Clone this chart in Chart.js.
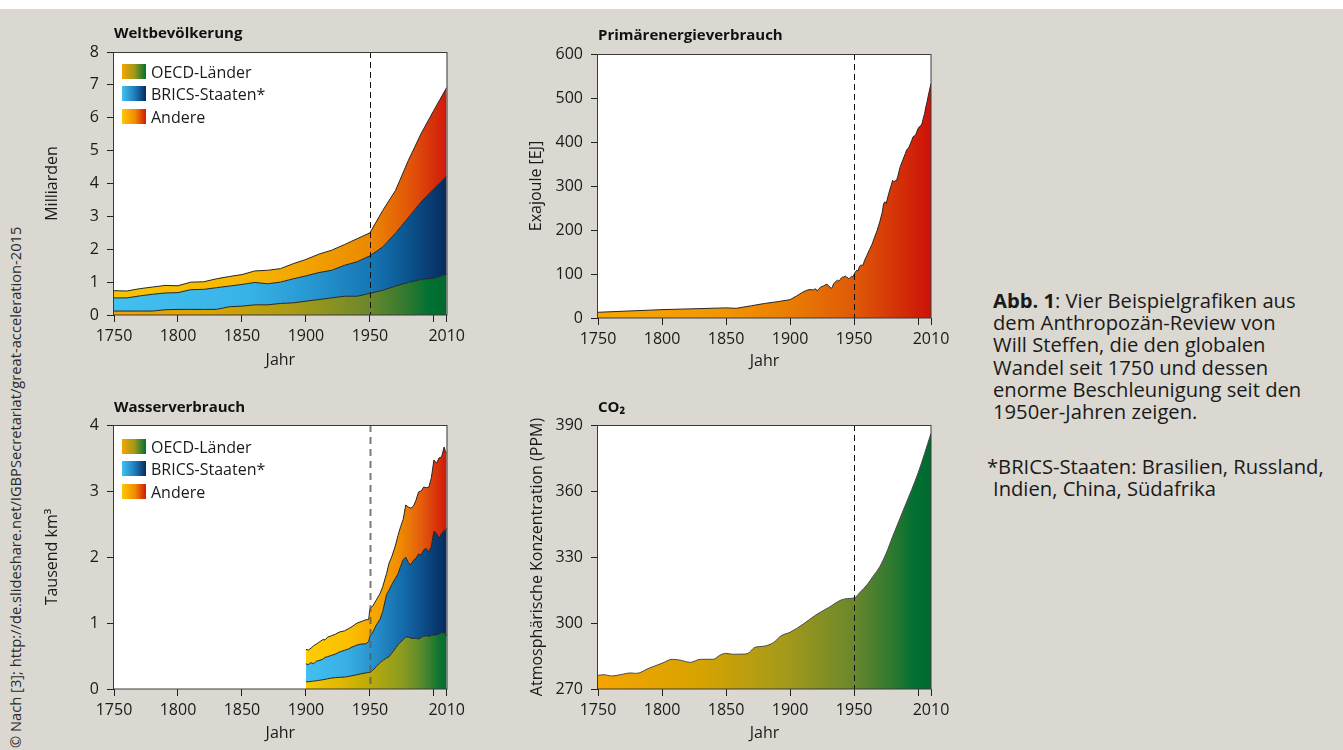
<!DOCTYPE html>
<html lang="de">
<head>
<meta charset="UTF-8">
<title>Große Beschleunigung</title>
<script src="https://cdn.jsdelivr.net/npm/chart.js@4.4.1/dist/chart.umd.min.js"></script>
<style>
  html, body { margin: 0; padding: 0; }
  body {
    width: 1343px; height: 750px; position: relative; overflow: hidden;
    background: #dbd8d1; font-family: 'Open Sans', sans-serif; color: #1a1a1a;
  }
  .strip { position: absolute; left: 0; top: 0; width: 100%; height: 9px; background: #fff; }
  canvas { position: absolute; }
  #c1 { left: 30px; top: 9px; }
  #c2 { left: 510px; top: 9px; }
  #c3 { left: 30px; top: 380px; }
  #c4 { left: 510px; top: 380px; }
  .caption { position: absolute; left: 993px; top: 289px; font-size: 20.2px; line-height: 22.2px; }
  .caption p { margin: 0; }
  .caption .note { margin-top: 33px; text-indent: -6px; }
  .credit {
    position: absolute; left: 6px; top: 748px; white-space: nowrap;
    font-size: 14.7px; line-height: 19px; color: #2a2a2a;
    transform-origin: left top; transform: rotate(-90deg);
  }
</style>
</head>
<body>
<div class="strip"></div>
<canvas id="c1" width="440" height="365"></canvas>
<canvas id="c2" width="445" height="365"></canvas>
<canvas id="c3" width="440" height="370"></canvas>
<canvas id="c4" width="445" height="370"></canvas>

<div class="caption">
  <p><b>Abb. 1</b>: Vier Beispielgrafiken aus<br>dem Anthropozän-Review von<br>Will Steffen, die den globalen<br>Wandel seit 1750 und dessen<br>enorme Beschleunigung seit den<br>1950er-Jahren zeigen.</p>
  <p class="note">*BRICS-Staaten: Brasilien, Russland,<br>Indien, China, Südafrika</p>
</div>
<div class="credit">© Nach [3]; http://de.slideshare.net/IGBPSecretariat/great-acceleration-2015</div>

<script>
// Jahresachse, gilt fuer alle vier Grafiken
const xTicks = [1750, 1800, 1850, 1900, 1950, 2000, 2010];
const xTickLabels = ['1750', '1800', '1850', '1900', '1950', '', '2010'];
const markYear = 1950;
const groupLabels = ['OECD-Länder', 'BRICS-Staaten*', 'Andere'];

// Weltbevoelkerung in Milliarden (je Gruppe, gestapelt)
const popYears = [1750, 1760, 1770, 1780, 1790, 1800, 1810, 1820, 1830, 1840, 1850, 1860, 1870, 1880,
  1890, 1900, 1910, 1920, 1930, 1940, 1950, 1960, 1970, 1980, 1990, 2000, 2010];
const popOECD = [0.12, 0.12, 0.12, 0.12, 0.16, 0.17, 0.17, 0.17, 0.17, 0.25, 0.27, 0.31, 0.31, 0.35,
  0.37, 0.42, 0.47, 0.52, 0.57, 0.57, 0.66, 0.75, 0.88, 0.99, 1.08, 1.12, 1.24];
const popBRICS = [0.40, 0.40, 0.46, 0.51, 0.51, 0.51, 0.60, 0.61, 0.66, 0.63, 0.66, 0.68, 0.64, 0.65,
  0.73, 0.77, 0.82, 0.84, 0.94, 1.05, 1.14, 1.32, 1.61, 1.97, 2.36, 2.72, 2.99];
const popOther = [0.22, 0.21, 0.22, 0.22, 0.23, 0.21, 0.23, 0.23, 0.27, 0.29, 0.30, 0.35, 0.41, 0.41,
  0.46, 0.50, 0.56, 0.61, 0.63, 0.70, 0.70, 1.11, 1.30, 1.74, 2.08, 2.39, 2.69];

// Primaerenergieverbrauch in EJ
const energyYears = [1750, 1800, 1850, 1858, 1870, 1880, 1890, 1900, 1905, 1910, 1913, 1915, 1917, 1918,
  1919, 1920, 1921, 1922, 1924, 1926, 1928, 1929, 1930, 1931, 1932, 1933, 1934, 1936, 1937, 1938, 1939,
  1940, 1941, 1942, 1943, 1944, 1945, 1946, 1947, 1948, 1949, 1950, 1951, 1952, 1953, 1954, 1955, 1957,
  1958, 1960, 1962, 1964, 1966, 1968, 1970, 1972, 1973, 1974, 1975, 1977, 1979, 1980, 1981, 1982, 1983,
  1984, 1986, 1988, 1990, 1991, 1992, 1993, 1994, 1995, 1996, 1997, 1998, 1999, 2000, 2001, 2002, 2003,
  2004, 2005, 2006, 2007, 2008, 2009, 2010];
const energyValues = [13, 19, 23, 22, 28, 33, 37, 41.7, 50, 59, 63, 64.5, 64.5, 63,
  66, 66, 61.5, 65, 70.5, 73, 76, 76, 73.6, 70.5, 67, 70.5, 78, 84, 86, 84, 87,
  91, 93, 93, 95.6, 93, 92, 89, 92, 95, 93, 99.4, 104.7, 108.5, 107, 116, 120, 120,
  130, 142.6, 155.5, 167.7, 184, 199.5, 218.5, 241, 260, 264, 260, 283, 302, 313, 309.6, 312, 312,
  321, 344, 359, 374, 382, 385.4, 389, 397, 404, 412, 414, 416, 424, 431, 435, 436.7, 442,
  454, 465, 480, 492, 507, 520, 533];

// Wasserverbrauch in Tausend km3 (je Gruppe, gestapelt)
const waterYears = [1900, 1902, 1904, 1906, 1908, 1910, 1913, 1915, 1917, 1920, 1923, 1926, 1930, 1933,
  1936, 1940, 1943, 1947, 1949, 1950, 1952, 1955, 1958, 1960, 1963, 1965, 1967, 1970, 1972, 1974, 1976,
  1978, 1980, 1982, 1984, 1986, 1988, 1990, 1992, 1994, 1996, 1998, 2000, 2002, 2004, 2006, 2008, 2009, 2010];
const waterOECD = [0.11, 0.11, 0.115, 0.12, 0.125, 0.13, 0.14, 0.146, 0.155, 0.166, 0.172, 0.177, 0.18, 0.19,
  0.20, 0.217, 0.23, 0.245, 0.25, 0.25, 0.28, 0.34, 0.40, 0.43, 0.47, 0.49, 0.54, 0.62, 0.67, 0.71, 0.75,
  0.787, 0.787, 0.77, 0.765, 0.77, 0.756, 0.78, 0.80, 0.805, 0.797, 0.81, 0.82, 0.82, 0.83, 0.857, 0.847, 0.84, 0.80];
const waterBRICS = [0.27, 0.26, 0.285, 0.26, 0.295, 0.30, 0.31, 0.334, 0.335, 0.344, 0.358, 0.383, 0.405, 0.415,
  0.435, 0.449, 0.45, 0.441, 0.47, 0.55, 0.57, 0.63, 0.66, 0.745, 0.96, 1.01, 1.04, 1.06, 1.08, 1.15, 1.21,
  1.21, 1.13, 1.11, 1.185, 1.21, 1.29, 1.25, 1.31, 1.325, 1.28, 1.35, 1.57, 1.54, 1.45, 1.50, 1.56, 1.54, 1.64];
const waterOther = [0.22, 0.22, 0.22, 0.275, 0.26, 0.276, 0.296, 0.266, 0.297, 0.297, 0.30, 0.302, 0.295, 0.305,
  0.31, 0.334, 0.34, 0.364, 0.33, 0.42, 0.40, 0.38, 0.39, 0.375, 0.32, 0.41, 0.42, 0.50, 0.58, 0.60, 0.61,
  0.79, 0.84, 0.86, 0.82, 0.88, 0.94, 0.97, 0.95, 0.92, 0.98, 1.04, 1.08, 1.06, 1.22, 1.16, 1.26, 1.22, 1.14];

// CO2-Konzentration in ppm
const co2Years = [1750, 1755, 1760, 1770, 1775, 1780, 1790, 1800, 1808, 1815, 1822, 1830, 1840, 1845, 1850,
  1855, 1865, 1868, 1872, 1880, 1887, 1893, 1900, 1910, 1920, 1930, 1940, 1945, 1950, 1955, 1960, 1965,
  1970, 1975, 1980, 1990, 2000, 2010];
const co2Values = [276.2, 276.5, 275.9, 276.8, 277.3, 277.1, 279.5, 281.7, 283.5, 283, 282.1, 283.5, 283.5, 285.3, 286.2,
  285.8, 285.9, 286.5, 288.8, 289.5, 291.1, 294.2, 295.8, 299.4, 303.6, 307, 310.5, 311.1, 311.4, 314.2, 317.3, 321.4,
  325.6, 331.7, 339.2, 353.6, 368.3, 386.2];

// Farbverlaeufe (links -> rechts)
const oecdStops = [[0, '#f5a400'], [0.3, '#d8a300'], [0.56, '#a49a1a'], [0.77, '#6a872c'], [0.89, '#2a7830'], [0.95, '#007032'], [1, '#006a30']];
const bricsStops = [[0, '#42c0f0'], [0.4, '#38b3e7'], [0.6, '#2596d0'], [0.77, '#1677b5'], [0.88, '#0b5690'], [1, '#072a5e']];
const otherStops = [[0, '#f8c400'], [0.4, '#f6b600'], [0.6, '#f1a000'], [0.77, '#ec8800'], [0.9, '#e0500a'], [1, '#d0190a']];
const waterOecdStops = [[0, '#f8c800'], [0.23, '#e2b900'], [0.45, '#bcab08'], [0.68, '#8c9c20'], [0.82, '#5a8a2c'], [0.95, '#0b7432'], [1, '#006e30']];
const waterBricsStops = [[0, '#42c0f0'], [0.3, '#38aee4'], [0.45, '#2a96d0'], [0.7, '#136aa8'], [0.85, '#0b4a86'], [1, '#072a5e']];
const waterOtherStops = [[0, '#ffcc00'], [0.3, '#fbc000'], [0.45, '#f6ac00'], [0.65, '#f09000'], [0.82, '#e45c0c'], [1, '#d0190a']];
const energyStops = [[0, '#f6a800'], [0.38, '#f29600'], [0.58, '#e97c02'], [0.77, '#df5a08'], [1, '#cc1208']];
const legendStops = [
  [[0, '#f5a400'], [0.5, '#a49a1a'], [1, '#007032']],
  [[0, '#42c0f0'], [0.5, '#1e82c0'], [1, '#072a5e']],
  [[0, '#ffc800'], [0.55, '#f08a00'], [1, '#d0190a']]
];

Chart.defaults.font.family = "'Open Sans', sans-serif";
Chart.defaults.font.size = 16;
Chart.defaults.color = '#1a1a1a';

function grad(chart, stops, from, to) {
  if (!chart.chartArea) return stops[0][1];
  const sx = chart.scales.x;
  const g = chart.ctx.createLinearGradient(sx.getPixelForValue(from), 0, sx.getPixelForValue(to), 0);
  stops.forEach(([p, c]) => g.addColorStop(p, c));
  return g;
}

function points(xs, ys) {
  return xs.map((x, i) => ({ x: x, y: ys[i] }));
}

// weisse Zeichenflaeche, Rahmen, gestrichelte 1950er-Linie und Legende in der Zeichenflaeche
const framePlugin = {
  id: 'frame',
  defaults: { markColor: '#111', markWidth: 1, dash: [6, 4], legend: false, legendTop: 12 },
  beforeDraw(chart) {
    const { ctx, chartArea: a } = chart;
    ctx.save();
    ctx.fillStyle = '#fff';
    ctx.fillRect(a.left, a.top, a.width, a.height);
    ctx.restore();
  },
  afterDatasetsDraw(chart, args, opts) {
    const { ctx, chartArea: a } = chart;
    const x = Math.round(chart.scales.x.getPixelForValue(markYear)) + 0.5;
    ctx.save();
    ctx.beginPath();
    ctx.setLineDash(opts.dash);
    ctx.strokeStyle = opts.markColor;
    ctx.lineWidth = opts.markWidth;
    ctx.moveTo(x, a.top);
    ctx.lineTo(x, a.bottom);
    ctx.stroke();
    ctx.setLineDash([]);
    ctx.strokeStyle = '#3a3a3a';
    ctx.lineWidth = 1;
    ctx.strokeRect(Math.round(a.left) - 0.5, Math.round(a.top) + 0.5,
      Math.round(a.width) + 0.5, Math.round(a.height) - 0.5);

    if (opts.legend) {
      ctx.font = "16px 'Open Sans', sans-serif";
      ctx.fillStyle = '#1a1a1a';
      ctx.textBaseline = 'alphabetic';
      chart.data.datasets.forEach((ds, i) => {
        const top = Math.round(a.top + opts.legendTop + i * 22.4);
        const left = Math.round(a.left + 8);
        const g = ctx.createLinearGradient(left, 0, left + 24, 0);
        legendStops[i].forEach(([p, c]) => g.addColorStop(p, c));
        ctx.fillStyle = g;
        ctx.fillRect(left, top, 24, 15);
        ctx.fillStyle = '#1a1a1a';
        ctx.fillText(ds.label, left + 29, top + 14);
      });
    }
    ctx.restore();
  }
};

function makeChart(id, o) {
  return new Chart(document.getElementById(id), {
    type: 'line',
    data: { datasets: o.datasets },
    plugins: [framePlugin],
    options: {
      responsive: false,
      animation: false,
      devicePixelRatio: 1,
      events: [],
      layout: { padding: { top: o.top, right: o.right, left: 0, bottom: 0 } },
      elements: {
        point: { radius: 0 },
        line: { tension: 0, borderWidth: 1, borderColor: '#262626' }
      },
      scales: {
        x: {
          type: 'linear', min: 1750, max: 2010,
          afterBuildTicks: (s) => { s.ticks = xTicks.map(v => ({ value: v })); },
          afterFit: (s) => { s.height = o.xHeight; },
          ticks: { autoSkip: false, maxRotation: 0, padding: 5, callback: (v, i) => xTickLabels[i] },
          grid: { drawOnChartArea: false, tickLength: 7, color: '#222' },
          border: { display: false },
          title: { display: true, text: 'Jahr', padding: { top: 0, bottom: o.jahrPad } }
        },
        y: {
          min: o.yMin, max: o.yMax, stacked: !!o.stacked,
          afterFit: (s) => { s.width = o.yWidth; },
          ticks: { stepSize: o.yStep, padding: 8 },
          grid: { drawOnChartArea: false, tickLength: 7, color: '#222' },
          border: { display: false },
          title: { display: true, text: o.yTitle, padding: { top: o.yTitlePad, bottom: 0 } }
        }
      },
      plugins: {
        tooltip: { enabled: false },
        legend: { display: false },
        frame: o.frame || {},
        title: {
          display: true, text: o.title, align: 'start', fullSize: false,
          font: { size: 15, weight: 'bold' }, color: '#111',
          padding: { top: 0, bottom: o.titlePad }
        }
      }
    }
  });
}

function stackSets(xs, series, stopSets, from) {
  return series.map((ys, i) => ({
    label: groupLabels[i],
    data: points(xs, ys),
    fill: i === 0 ? 'origin' : '-1',
    backgroundColor: (c) => grad(c.chart, stopSets[i], from, 2010)
  }));
}

makeChart('c1', {
  title: 'Weltbevölkerung', top: 16, titlePad: 9, right: 23, xHeight: 59, jahrPad: 3.5,
  yMin: 0, yMax: 8, yStep: 1, yWidth: 84, yTitle: 'Milliarden', yTitlePad: 12.5,
  stacked: true,
  frame: { legend: true, legendTop: 12 },
  datasets: stackSets(popYears, [popOECD, popBRICS, popOther], [oecdStops, bricsStops, otherStops], 1750)
});

makeChart('c2', {
  title: 'Primärenergieverbrauch', top: 18, titlePad: 9, right: 24, xHeight: 56, jahrPad: 2.5,
  yMin: 0, yMax: 600, yStep: 100, yWidth: 88, yTitle: 'Exajoule [EJ]', yTitlePad: 16.5,
  datasets: [{
    label: 'Primärenergieverbrauch',
    data: points(energyYears, energyValues),
    fill: 'origin',
    backgroundColor: (c) => grad(c.chart, energyStops, 1750, 2010)
  }]
});

makeChart('c3', {
  title: 'Wasserverbrauch', top: 19, titlePad: 8, right: 22, xHeight: 61, jahrPad: 6.5,
  yMin: 0, yMax: 4, yStep: 1, yWidth: 84, yTitle: 'Tausend km³', yTitlePad: 12.5,
  stacked: true,
  frame: { markColor: 'rgba(90,90,90,0.8)', markWidth: 2, dash: [7, 5], legend: true, legendTop: 14 },
  datasets: stackSets(waterYears, [waterOECD, waterBRICS, waterOther],
    [waterOecdStops, waterBricsStops, waterOtherStops], 1900)
});

makeChart('c4', {
  title: 'CO₂', top: 19, titlePad: 8, right: 24, xHeight: 61, jahrPad: 6.5,
  yMin: 270, yMax: 390, yStep: 30, yWidth: 88, yTitle: 'Atmosphärische Konzentration (PPM)', yTitlePad: 17.5,
  datasets: [{
    label: 'CO₂',
    data: points(co2Years, co2Values),
    fill: 'start',
    cubicInterpolationMode: 'monotone',
    borderColor: '#4a4a4a',
    backgroundColor: (c) => grad(c.chart, oecdStops, 1750, 2010)
  }]
});
</script>
</body>
</html>
